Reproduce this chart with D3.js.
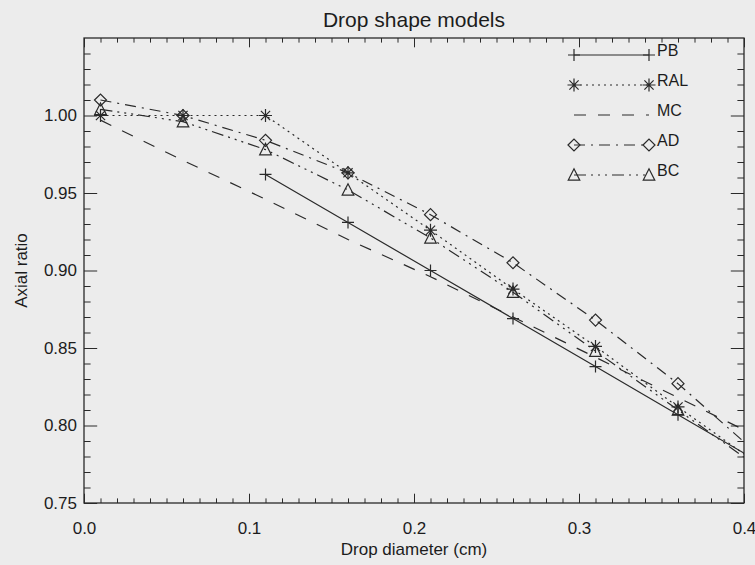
<!DOCTYPE html>
<html>
<head>
<meta charset="utf-8">
<script src="https://cdnjs.cloudflare.com/ajax/libs/d3/7.8.5/d3.min.js"></script>
<style>
  html, body { margin: 0; padding: 0; background: #ececec; }
  svg { display: block; }
  text { font-family: "Liberation Sans", Arial, Helvetica, sans-serif; fill: #1c1c1c; }
</style>
</head>
<body>
<div id="chart"></div>
<script>
// ---- data ----
const diameters = [0.01, 0.06, 0.11, 0.16, 0.21, 0.26, 0.31, 0.36, 0.41];
const pbDiameters = [0.11, 0.16, 0.21, 0.26, 0.31, 0.36, 0.41];
const pbValues  = [0.962, 0.931, 0.900, 0.869, 0.838, 0.807, 0.776];
const ralValues = [1.000, 1.000, 1.000, 0.963, 0.926, 0.888, 0.851, 0.812, 0.774];
const mcValues  = [0.997, 0.971, 0.946, 0.920, 0.896, 0.870, 0.844, 0.818, 0.792];
const adValues  = [1.010, 1.000, 0.984, 0.963, 0.936, 0.905, 0.868, 0.827, 0.780];
const bcValues  = [1.004, 0.996, 0.978, 0.952, 0.921, 0.886, 0.848, 0.810, 0.772];
const seriesNames = ["PB", "RAL", "MC", "AD", "BC"];
const xTickValues = [0.0, 0.1, 0.2, 0.3, 0.4];
const xTickLabels = ["0.0", "0.1", "0.2", "0.3", "0.4"];
const yTickValues = [0.75, 0.80, 0.85, 0.90, 0.95, 1.00];
const yTickLabels = ["0.75", "0.80", "0.85", "0.90", "0.95", "1.00"];
const titleText = "Drop shape models";
const xTitle = "Drop diameter (cm)";
const yTitle = "Axial ratio";

// ---- styles ----
const markerPaths = {
  plus: "M-6,0H6M0,-6V6",
  asterisk: "M-6.5,0H6.5M0,-6.5V6.5M-4.6,-4.6L4.6,4.6M-4.6,4.6L4.6,-4.6",
  none: "",
  diamond: "M-6,0L0,-6L6,0L0,6Z",
  triangle: "M-5.8,5.2L0,-6.2L5.8,5.2Z"
};
const styles = {
  PB:  { dash: null, marker: "plus" },
  RAL: { dash: "2,4", marker: "asterisk" },
  MC:  { dash: "12,12", marker: "none" },
  AD:  { dash: "11,6,2,6", marker: "diamond" },
  BC:  { dash: "12,5,2,5,2,5,2,5", marker: "triangle" }
};
const series = [
  { name: "PB",  xs: pbDiameters, ys: pbValues },
  { name: "RAL", xs: diameters, ys: ralValues },
  { name: "MC",  xs: diameters, ys: mcValues },
  { name: "AD",  xs: diameters, ys: adValues },
  { name: "BC",  xs: diameters, ys: bcValues }
];

const W = 755, H = 565;
const L = 84, R = 744, T = 38, B = 503;
const ink = "#2a2a2a";

const svg = d3.select("#chart").append("svg").attr("width", W).attr("height", H);
svg.append("rect").attr("width", W).attr("height", H).attr("fill", "#ececec");

const x = d3.scaleLinear().domain([0, 0.4]).range([L, R]);
const y = d3.scaleLinear().domain([0.75, 1.05]).range([B, T]);

svg.append("defs").append("clipPath").attr("id", "plotclip")
  .append("rect").attr("x", L).attr("y", T).attr("width", R - L).attr("height", B - T);

// minor tick values
const xMinor = d3.range(0, 41).map(i => i / 100).filter(v => Math.round(v * 100) % 10 !== 0);
const yMinor = d3.range(75, 106).map(i => i / 100).filter(v => Math.round(v * 100) % 5 !== 0);

function styleAxis(g) {
  g.select(".domain").remove();
  g.selectAll("line").attr("stroke", ink).attr("stroke-width", 1);
}

// bottom
svg.append("g").attr("transform", `translate(0,${B})`)
  .call(d3.axisBottom(x).tickValues(xTickValues).tickSize(-9.3).tickPadding(19)
    .tickFormat((d, i) => xTickLabels[i]))
  .call(styleAxis)
  .call(g => g.selectAll("text").attr("font-size", 17).attr("fill", "#1c1c1c")
    .style("font-family", '"Liberation Sans", Arial, sans-serif'));
svg.append("g").attr("transform", `translate(0,${B})`)
  .call(d3.axisBottom(x).tickValues(xMinor).tickSize(-4.6).tickFormat(""))
  .call(styleAxis);
// top
svg.append("g").attr("transform", `translate(0,${T})`)
  .call(d3.axisTop(x).tickValues(xTickValues).tickSize(-9.3).tickFormat(""))
  .call(styleAxis);
svg.append("g").attr("transform", `translate(0,${T})`)
  .call(d3.axisTop(x).tickValues(xMinor).tickSize(-4.6).tickFormat(""))
  .call(styleAxis);
// left
svg.append("g").attr("transform", `translate(${L},0)`)
  .call(d3.axisLeft(y).tickValues(yTickValues).tickSize(-13.2).tickPadding(7)
    .tickFormat((d, i) => yTickLabels[i]))
  .call(styleAxis)
  .call(g => g.selectAll("text").attr("font-size", 17).attr("fill", "#1c1c1c")
    .style("font-family", '"Liberation Sans", Arial, sans-serif'));
svg.append("g").attr("transform", `translate(${L},0)`)
  .call(d3.axisLeft(y).tickValues(yMinor).tickSize(-6.6).tickFormat(""))
  .call(styleAxis);
// right
svg.append("g").attr("transform", `translate(${R},0)`)
  .call(d3.axisRight(y).tickValues(yTickValues).tickSize(-13.2).tickFormat(""))
  .call(styleAxis);
svg.append("g").attr("transform", `translate(${R},0)`)
  .call(d3.axisRight(y).tickValues(yMinor).tickSize(-6.6).tickFormat(""))
  .call(styleAxis);

// frame
svg.append("rect").attr("x", L).attr("y", T).attr("width", R - L).attr("height", B - T)
  .attr("fill", "none").attr("stroke", ink).attr("stroke-width", 1.3);

// series
const plot = svg.append("g").attr("clip-path", "url(#plotclip)");
const line = d3.line().x(d => x(d[0])).y(d => y(d[1]));
series.forEach(s => {
  const st = styles[s.name];
  const pts = s.xs.map((v, i) => [v, s.ys[i]]);
  plot.append("path").datum(pts).attr("d", line)
    .attr("fill", "none").attr("stroke", ink).attr("stroke-width", 1.2)
    .attr("stroke-dasharray", st.dash);
  if (st.marker !== "none") {
    plot.selectAll(null).data(pts).enter().append("path")
      .attr("transform", d => `translate(${x(d[0])},${y(d[1])})`)
      .attr("d", markerPaths[st.marker])
      .attr("fill", "none").attr("stroke", ink).attr("stroke-width", 1.2);
  }
});

// legend
const legX0 = 574, legX1 = 649, legY0 = 55, legDy = 30;
seriesNames.forEach((name, i) => {
  const st = styles[name];
  const ly = legY0 + i * legDy;
  const g = svg.append("g");
  g.append("line").attr("x1", legX0).attr("x2", legX1).attr("y1", ly).attr("y2", ly)
    .attr("stroke", ink).attr("stroke-width", 1.2).attr("stroke-dasharray", st.dash);
  if (st.marker !== "none") {
    [legX0, legX1].forEach(lx => {
      g.append("path").attr("transform", `translate(${lx},${ly})`)
        .attr("d", markerPaths[st.marker]).attr("fill", "none")
        .attr("stroke", ink).attr("stroke-width", 1.2);
    });
  }
  g.append("text").attr("x", 657).attr("y", ly + 1).attr("font-size", 16).text(name);
});

// titles
svg.append("text").attr("x", (L + R) / 2).attr("y", 26.5).attr("text-anchor", "middle")
  .attr("font-size", 21).text(titleText);
svg.append("text").attr("x", (L + R) / 2).attr("y", 555).attr("text-anchor", "middle")
  .attr("font-size", 17).text(xTitle);
svg.append("text").attr("transform", `translate(27,${(T + B) / 2}) rotate(-90)`)
  .attr("text-anchor", "middle").attr("font-size", 17).text(yTitle);
</script>
</body>
</html>
